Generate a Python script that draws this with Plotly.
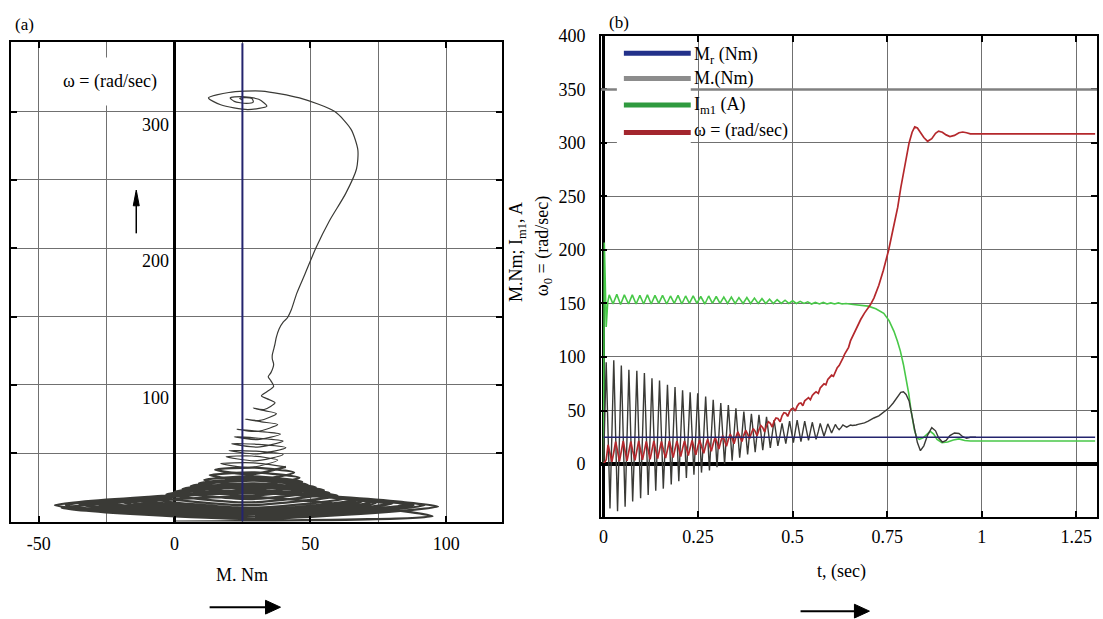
import plotly.graph_objects as go

W, H = 1103, 619

# ---------------------------------------------------------------------------
# Start-up transient: time base shared by torque and speed
# ---------------------------------------------------------------------------
t_s = [
    0.000,
    0.007, 0.012, 0.017, 0.022,
    0.027, 0.032, 0.037, 0.042,
    0.047, 0.052, 0.057, 0.062,
    0.067, 0.072, 0.077, 0.083,
    0.088, 0.093, 0.098, 0.103,
    0.108, 0.113, 0.118, 0.123,
    0.128, 0.133, 0.138, 0.143,
    0.148, 0.153, 0.158, 0.164,
    0.169, 0.174, 0.179, 0.184,
    0.189, 0.194, 0.199, 0.204,
    0.209, 0.214, 0.219, 0.224,
    0.229, 0.234, 0.239, 0.244,
    0.249, 0.254, 0.259, 0.265,
    0.270, 0.275, 0.280, 0.285,
    0.290, 0.295, 0.300, 0.305,
    0.310, 0.315, 0.320, 0.325,
    0.330, 0.335, 0.340, 0.345,
    0.350, 0.355, 0.360, 0.366,
    0.371, 0.376, 0.381, 0.386,
    0.391, 0.396, 0.401, 0.406,
    0.411, 0.416, 0.421, 0.426,
    0.431, 0.436, 0.441, 0.446,
    0.451, 0.456, 0.461, 0.467,
    0.472, 0.477, 0.482, 0.487,
    0.492, 0.497, 0.502, 0.507,
    0.512, 0.517, 0.522, 0.527,
    0.532, 0.537, 0.542, 0.547,
    0.552, 0.557, 0.562, 0.568,
    0.573, 0.578, 0.583, 0.588,
    0.593, 0.598, 0.603, 0.608,
    0.613, 0.618, 0.623, 0.628, 0.633, 0.638, 0.643, 0.648, 0.653,
    0.658, 0.663, 0.668, 0.673, 0.680, 0.690, 0.700, 0.706,
    0.715, 0.728, 0.740, 0.754, 0.766, 0.778, 0.786, 0.793, 0.800,
    0.808, 0.816, 0.823, 0.830, 0.838, 0.847, 0.857, 0.868, 0.878,
    0.886, 0.896, 0.906, 0.916, 0.928, 0.940, 0.950, 0.960, 0.970, 0.985,
]

# electromagnetic torque M, Nm
torque_nm = [
    0,
    95, 28, -41.5, 28,
    97, 26, -44, 24,
    92, 26, -40, 24,
    88, 26.5, -35, 26,
    87, 27.5, -32, 26.5,
    85, 28, -29, 25.5,
    80, 27.5, -25, 26.5,
    78, 27.5, -23, 25.5,
    74, 27.5, -19, 26.5,
    72, 28, -16, 26.5,
    69, 28, -13, 27,
    67, 28.5, -10, 28,
    66, 29, -8, 27.5,
    63, 28.5, -6, 27,
    60, 28.5, -3, 27,
    57, 28.5, 0, 27.5,
    55, 29, 3, 27.5,
    52, 29, 6, 27.5,
    49, 29, 9, 28,
    47, 29, 11, 28.5,
    46, 29.5, 13, 28.5,
    44, 29.5, 15, 28,
    41, 29, 17, 27.5,
    38, 28.5, 19, 29.5,
    40, 30, 20, 30.5,
    41, 31, 21, 30.5,
    40, 31, 22, 30.5,
    39, 31, 23, 30.5,
    38, 32, 26, 31.5,
    37.5, 33.5, 29, 33,
    37, 34, 32, 34, 36.5, 35.5, 34.5, 35.5, 36.5,
    36, 36, 36.5, 37, 37.5, 38.5, 40, 41.5,
    43, 45, 48, 52, 57, 63, 67, 67.5, 65,
    59, 46, 32, 20, 12.5, 17, 27, 34, 31,
    24.5, 20.5, 22, 26.5, 29, 28.5, 25.5, 24, 25, 25,
]

# rotor speed omega, rad/s
speed_rad_s = [
    0,
    4, 18, 10, 2,
    11, 21, 12, 2.5,
    12, 21.5, 12, 3,
    12, 21, 12.5, 3.5,
    12.5, 21.5, 12.5, 4,
    12.5, 21, 13, 4.5,
    13, 21.5, 13, 5,
    13, 21, 13.5, 5.5,
    13.5, 21.5, 14, 6,
    14, 21.5, 14.5, 7,
    14.5, 21.5, 15, 8,
    15, 22, 15.5, 8.5,
    16, 22.5, 16.5, 10,
    17, 23, 18, 12,
    19, 25, 20, 14,
    21, 26.5, 22, 16.5,
    23, 28, 24, 19,
    25, 30, 26, 21,
    27, 31.5, 28, 23.5,
    29, 33, 30.5, 26.5,
    32, 36, 34, 30,
    36, 39.5, 38, 34.5,
    40, 43, 42.5, 39.5,
    45, 48, 47.5, 44.5,
    49, 51.5, 52, 49.5,
    54, 56.5, 57, 54.5,
    59, 61, 62, 60,
    64, 66, 67.5, 66,
    71, 73, 75, 74,
    79, 81, 83, 82,
    87, 90, 92, 95, 99, 103, 106, 109, 115,
    119, 122, 126, 130, 135, 141, 146, 149,
    155, 167, 181, 200, 220, 240, 258, 272, 287,
    300, 310, 315, 314, 310, 305, 301.5, 304, 309,
    311, 310, 307.5, 306, 307, 309.5, 310.2, 309.5, 308.5, 308.5,
]
t_speed_end = [1.30]
speed_end = [308.5]

# magnetising current I_m1, A
t_cur = [
    0.000, 0.002, 0.004, 0.007, 0.011,
    0.015, 0.025, 0.035, 0.045, 0.055, 0.066, 0.076, 0.086, 0.096, 0.106,
    0.116, 0.126, 0.136, 0.146, 0.156, 0.167, 0.177, 0.187, 0.197, 0.207,
    0.217, 0.227, 0.237, 0.247, 0.257, 0.268, 0.278, 0.288, 0.298, 0.308,
    0.318, 0.328, 0.338, 0.348, 0.358, 0.369, 0.379, 0.389, 0.399, 0.409,
    0.419, 0.429, 0.439, 0.449, 0.459, 0.470, 0.480, 0.490, 0.500, 0.510,
    0.520, 0.530, 0.540, 0.550, 0.560, 0.571, 0.581, 0.591, 0.601, 0.611,
    0.621, 0.631, 0.641, 0.660, 0.680, 0.700, 0.720, 0.741, 0.755, 0.768,
    0.777, 0.785, 0.793, 0.800, 0.807, 0.813, 0.818, 0.822, 0.828, 0.835,
    0.845, 0.855, 0.864, 0.873, 0.882, 0.895, 0.910, 0.925, 0.940, 0.955,
    0.970, 1.000, 1.300,
]
current_a = [
    0, 207, 178, 128, 151,
    158, 149.5, 158.5, 149, 158, 149.5, 158, 149.5, 157.5, 149.5,
    158, 149.5, 157.5, 150, 157.5, 149.5, 157, 150, 157.5, 149.5,
    157, 150, 157, 150, 156.5, 149.5, 157, 150, 156.5, 150,
    156, 150, 156, 150, 155.5, 150, 155.5, 150, 155, 150,
    154.5, 150, 154, 150, 153.5, 150, 153, 150, 152.5, 150,
    152, 150, 151.5, 149.5, 151, 149.5, 151, 149.5, 150.5, 149.5,
    150.5, 149.5, 150, 149, 148.5, 147.5, 145, 140.8, 134, 124,
    115, 105.5, 93, 81, 66, 50.5, 40, 32, 25, 23,
    24.5, 28, 30.5, 28, 23, 20, 20.5, 22.5, 23.5, 22,
    21.5, 21.5, 21.5,
]

# load torque M_r and the reference line at 350
load_torque_nm = 25
t_span = [0.0, 1.30]
omega_span = [0, 350]
upper_line_level = 350

legend_labels = ["M<sub>r</sub> (Nm)", "M.(Nm)", "I<sub>m1</sub> (A)", "ω = (rad/sec)"]

a_xticks = [-50, 0, 50, 100]
a_xtext = ["-50", "0", "50", "100"]
a_xminor = [-25, 25, 75]
a_ygrid = [0, 50, 100, 150, 200, 250, 300, 350]
a_ylabels = [100, 200, 300]
b_xticks = [0, 0.25, 0.5, 0.75, 1, 1.25]
b_xtext = ["0", "0.25", "0.5", "0.75", "1", "1.25"]
b_yticks = [0, 50, 100, 150, 200, 250, 300, 350, 400]
b_ytext = ["0", "50", "100", "150", "200", "250", "300", "350", "400"]

# the dense start-up loops of the phase portrait are drawn heavier
DENSE_END = 89

# colours
C_TORQUE = "#3a3a36"
C_LOAD = "#24246e"
C_CURRENT = "#48c848"
C_SPEED = "#b4282c"
C_GRID = "#707070"
LEG_COLORS = ["#22318a", "#8c8c8c", "#2f9a3f", "#a3262e"]

FONT = "Liberation Serif"
FS = 18


def px(x):
    return x / W


def py(y):
    return 1 - y / H


fig = go.Figure()

# ---- panel (a): phase trajectory omega(M) ----
fig.add_trace(go.Scatter(
    x=torque_nm[:DENSE_END + 1], y=speed_rad_s[:DENSE_END + 1], mode="lines",
    xaxis="x", yaxis="y",
    line=dict(color=C_TORQUE, width=2.3, shape="spline", smoothing=0.7),
    showlegend=False, hoverinfo="skip"))
fig.add_trace(go.Scatter(
    x=torque_nm[DENSE_END:], y=speed_rad_s[DENSE_END:], mode="lines",
    xaxis="x", yaxis="y",
    line=dict(color=C_TORQUE, width=1.2, shape="spline", smoothing=0.7),
    showlegend=False, hoverinfo="skip"))
fig.add_trace(go.Scatter(
    x=[load_torque_nm, load_torque_nm], y=omega_span, mode="lines",
    xaxis="x", yaxis="y", line=dict(color=C_LOAD, width=2),
    showlegend=False, hoverinfo="skip"))

# ---- panel (b): time responses ----
fig.add_trace(go.Scatter(
    x=t_cur, y=current_a, mode="lines", xaxis="x2", yaxis="y2",
    line=dict(color=C_CURRENT, width=1.6), showlegend=False, hoverinfo="skip"))
fig.add_trace(go.Scatter(
    x=t_s, y=torque_nm, mode="lines", xaxis="x2", yaxis="y2",
    line=dict(color=C_TORQUE, width=1.4), showlegend=False, hoverinfo="skip"))
fig.add_trace(go.Scatter(
    x=t_s + t_speed_end, y=speed_rad_s + speed_end, mode="lines",
    xaxis="x2", yaxis="y2", line=dict(color=C_SPEED, width=1.7),
    showlegend=False, hoverinfo="skip"))
fig.add_trace(go.Scatter(
    x=t_span, y=[load_torque_nm, load_torque_nm], mode="lines",
    xaxis="x2", yaxis="y2", line=dict(color=C_LOAD, width=1.4),
    showlegend=False, hoverinfo="skip"))

tickfont = dict(family=FONT, size=FS, color="black")

axis_common = dict(
    showgrid=True, gridcolor=C_GRID, gridwidth=1,
    showline=True, linecolor="black", linewidth=1.5, mirror="ticks",
    ticks="inside", ticklen=6, tickwidth=2, tickcolor="black",
    tickfont=tickfont, fixedrange=True,
)

fig.update_layout(
    width=W, height=H,
    margin=dict(l=0, r=0, t=0, b=0),
    paper_bgcolor="white", plot_bgcolor="white",
    font=dict(family=FONT, size=FS, color="black"),
    xaxis=dict(
        domain=[px(9), px(501)], range=[-60.2, 120.6],
        tickmode="array", tickvals=a_xticks, ticktext=a_xtext,
        minor=dict(tickmode="array", tickvals=a_xminor, showgrid=True,
                   gridcolor=C_GRID, gridwidth=1, ticks=""),
        zeroline=True, zerolinecolor="black", zerolinewidth=3,
        ticklabelstandoff=5, anchor="y", **axis_common),
    yaxis=dict(
        domain=[py(520), py(33)], range=[0, 350.6],
        tickmode="array", tickvals=[],
        minor=dict(tickmode="array", tickvals=a_ygrid, showgrid=True,
                   gridcolor=C_GRID, gridwidth=1, ticks="inside", ticklen=6,
                   tickwidth=2, tickcolor="black"),
        zeroline=True, zerolinecolor="black", zerolinewidth=3,
        anchor="x", **axis_common),
    xaxis2=dict(
        domain=[px(600), px(1097)], range=[-0.007, 1.305],
        tickmode="array", tickvals=b_xticks, ticktext=b_xtext,
        zeroline=True, zerolinecolor="black", zerolinewidth=3,
        ticklabelstandoff=3, anchor="y2", **axis_common),
    yaxis2=dict(
        domain=[py(515), py(26.3)], range=[-49.2, 400],
        tickmode="array", tickvals=b_yticks, ticktext=b_ytext,
        zeroline=True, zerolinecolor="black", zerolinewidth=4,
        ticklabelstandoff=10, anchor="x2", **axis_common),
)

shapes = []
# heavier line at 350 in panel (b)
shapes.append(dict(type="line", xref="x2", yref="y2", x0=-0.007, x1=1.305,
                   y0=upper_line_level, y1=upper_line_level,
                   line=dict(color="#808080", width=2.5), layer="above"))
# legend background and sample lines
shapes.append(dict(type="rect", xref="paper", yref="paper",
                   x0=px(616), x1=px(690), y0=py(138), y1=py(29),
                   fillcolor="white", line=dict(width=0), layer="above"))
leg_rows = [44, 69.5, 96.5, 124.5]
for yy, col in zip(leg_rows, LEG_COLORS):
    shapes.append(dict(type="line", xref="paper", yref="paper",
                       x0=px(623), x1=px(690), y0=py(yy), y1=py(yy),
                       line=dict(color=col, width=5), layer="above"))


# direction arrows
def arrow_right(x0, x1, y):
    shapes.append(dict(type="line", xref="paper", yref="paper",
                       x0=px(x0), x1=px(x1 - 12), y0=py(y), y1=py(y),
                       line=dict(color="black", width=2)))
    shapes.append(dict(type="path", xref="paper", yref="paper",
                       path=(f"M {px(x1 - 15)},{py(y - 7)} L {px(x1)},{py(y)} "
                             f"L {px(x1 - 15)},{py(y + 7)} Z"),
                       fillcolor="black", line=dict(color="black", width=1)))


arrow_right(208, 279, 607)
arrow_right(800, 869, 611)

# upward arrow in panel (a)
shapes.append(dict(type="line", xref="paper", yref="paper",
                   x0=px(134.5), x1=px(134.5), y0=py(227), y1=py(186),
                   line=dict(color="black", width=1.5)))
shapes.append(dict(type="path", xref="paper", yref="paper",
                   path=(f"M {px(131.5)},{py(199)} L {px(134.5)},{py(183)} "
                         f"L {px(137.5)},{py(199)} Z"),
                   fillcolor="black", line=dict(color="black", width=1)))

fig.update_layout(shapes=shapes)


def label(text, x, y, size=FS, **kw):
    d = dict(text=text, xref="paper", yref="paper", x=px(x), y=py(y),
             xanchor="center", yanchor="middle", showarrow=False,
             font=dict(family=FONT, size=size, color="black"))
    d.update(kw)
    return d


ann = []
ann.append(label("(a)", 23, 15, size=17))
ann.append(label("(b)", 618, 13, size=17))
ann.append(label("ω = (rad/sec)", 108, 73, bgcolor="white", borderpad=13))
for v in a_ylabels:
    ann.append(dict(text=str(v), xref="x", yref="y", x=0, y=v,
                    xanchor="right", yanchor="middle", xshift=-4, yshift=-13,
                    showarrow=False, font=dict(family=FONT, size=FS)))
ann.append(label("M. Nm", 240, 574))
ann.append(label("t, (sec)", 841, 571))
ann.append(label("M.Nm; I<sub>m1</sub>, A", 516, 246, textangle=-90))
ann.append(label("ω<sub>0</sub> = (rad/sec)", 542, 240, textangle=-90))
leg_text_rows = [46, 70, 97, 122]
for yy, lab in zip(leg_text_rows, legend_labels):
    ann.append(dict(text=lab, xref="paper", yref="paper", x=px(691), y=py(yy),
                    xanchor="left", yanchor="middle", showarrow=False,
                    font=dict(family=FONT, size=FS)))
fig.update_layout(annotations=ann)

fig.write_html("out.html")
